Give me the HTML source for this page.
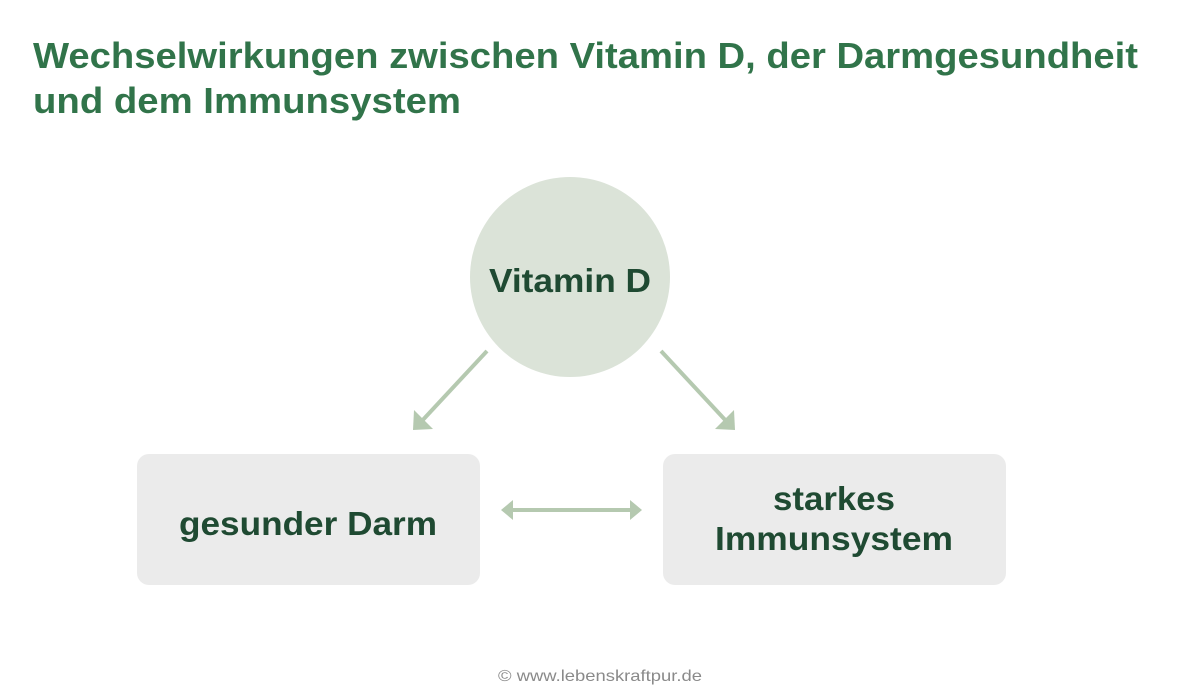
<!DOCTYPE html>
<html><head><meta charset="utf-8"><style>
html,body{margin:0;padding:0;background:#fff;}
svg{display:block;}
text{font-family:"Liberation Sans",sans-serif;}
</style></head><body>
<svg width="1200" height="700" viewBox="0 0 1200 700" xmlns="http://www.w3.org/2000/svg">
<text x="33" y="68" font-size="36" font-weight="bold" fill="#31744a" textLength="1105" lengthAdjust="spacingAndGlyphs">Wechselwirkungen zwischen Vitamin D, der Darmgesundheit</text>
<text x="33" y="113" font-size="36" font-weight="bold" fill="#31744a" textLength="428" lengthAdjust="spacingAndGlyphs">und dem Immunsystem</text>
<circle cx="570" cy="277" r="100" fill="#dbe3d8"/>
<text x="570" y="292" font-size="33" font-weight="bold" fill="#1f4a32" text-anchor="middle" textLength="162" lengthAdjust="spacingAndGlyphs">Vitamin D</text>
<rect x="137" y="454" width="343" height="131" rx="12" fill="#ebebeb"/>
<rect x="663" y="454" width="343" height="131" rx="12" fill="#ebebeb"/>
<text x="308" y="535" font-size="33" font-weight="bold" fill="#1f4a32" text-anchor="middle" textLength="258" lengthAdjust="spacingAndGlyphs">gesunder Darm</text>
<text x="834" y="510" font-size="33" font-weight="bold" fill="#1f4a32" text-anchor="middle" textLength="122" lengthAdjust="spacingAndGlyphs">starkes</text>
<text x="834" y="550" font-size="33" font-weight="bold" fill="#1f4a32" text-anchor="middle" textLength="238" lengthAdjust="spacingAndGlyphs">Immunsystem</text>
<g stroke="#b5c9b0" stroke-width="4" fill="#b5c9b0">
<line x1="487" y1="351" x2="420" y2="423"/>
<line x1="661" y1="351" x2="728" y2="423"/>
<line x1="510" y1="510" x2="633" y2="510"/>
</g>
<g fill="#b5c9b0">
<polygon points="413,430 414,410 433,429"/>
<polygon points="735,430 734,410 715,429"/>
<polygon points="501,510 513,500 513,520"/>
<polygon points="642,510 630,500 630,520"/>
</g>
<text x="600" y="681" font-size="16" fill="#8a8a8a" text-anchor="middle" textLength="204" lengthAdjust="spacingAndGlyphs">© www.lebenskraftpur.de</text>
</svg>
</body></html>
